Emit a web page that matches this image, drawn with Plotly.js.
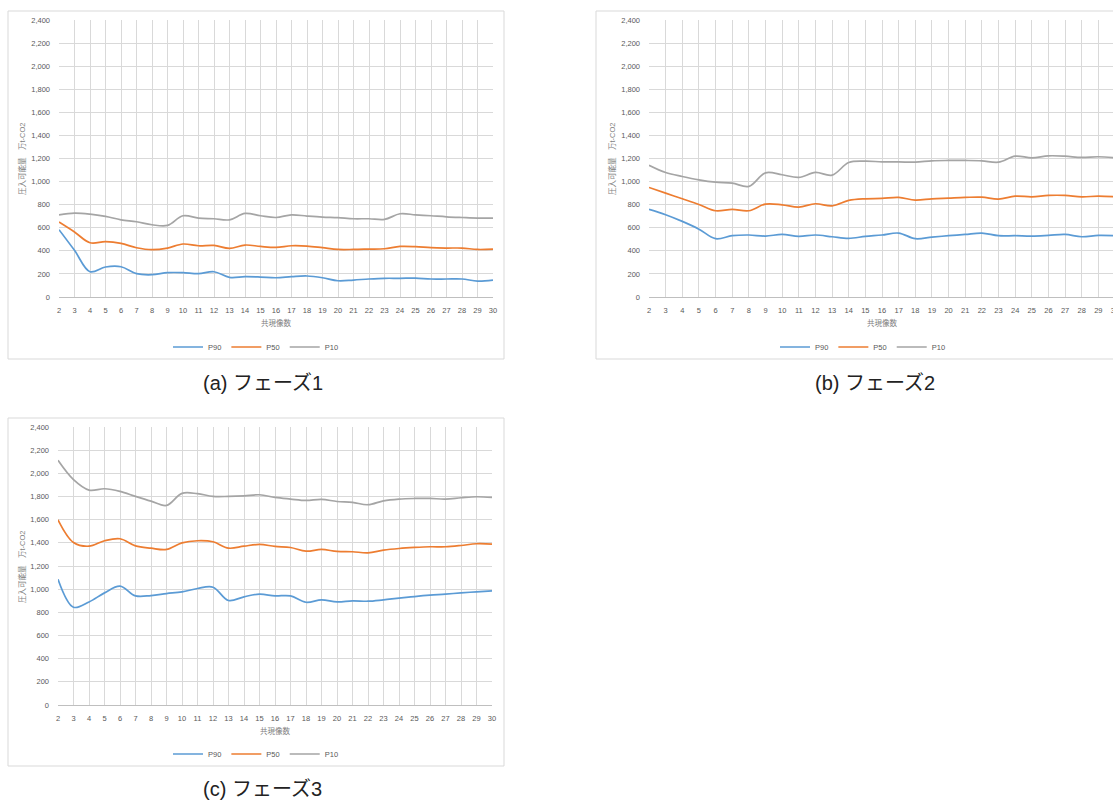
<!DOCTYPE html>
<html><head><meta charset="utf-8">
<script src="https://cdn.plot.ly/plotly-3.0.1.min.js"></script>
<style>html,body{margin:0;padding:0;overflow:hidden;background:#fff}#chart{width:1135px;height:804px}</style>
</head><body><div id="chart"></div>
<script>
const counts = [2,3,4,5,6,7,8,9,10,11,12,13,14,15,16,17,18,19,20,21,22,23,24,25,26,27,28,29,30];
const seriesNames = ['P90','P50','P10'];
const seriesColors = ['#5B9BD5','#ED7D31','#A5A5A5'];

const phase1_P90 = [583,404,219,260,262,202,193,211,211,202,219,170,176,173,167,176,182,167,141,147,156,162,162,164,156,156,156,138,147];
const phase1_P50 = [649,563,470,479,464,427,410,424,459,444,447,421,450,438,430,444,441,427,412,412,415,418,438,436,427,424,424,412,415];
const phase1_P10 = [712,727,718,698,669,652,626,620,704,684,678,669,724,704,689,712,701,692,687,678,678,672,721,712,704,695,689,684,684];

const phase2_P90 = [759,713,655,588,505,531,537,528,542,525,537,522,508,525,537,554,505,519,531,542,554,531,531,528,534,542,522,534,531];
const phase2_P50 = [949,900,851,802,747,759,747,805,799,779,808,790,837,851,854,863,839,851,857,863,865,848,874,868,880,880,868,874,868];
const phase2_P10 = [1142,1079,1044,1015,995,987,958,1076,1059,1036,1079,1056,1165,1177,1171,1171,1168,1180,1183,1183,1180,1168,1220,1206,1223,1220,1209,1215,1206];

const phase3_P90 = [1086,844,890,968,1026,942,945,962,977,1006,1017,902,934,957,942,942,887,908,890,899,896,908,922,936,948,957,968,977,985];
const phase3_P50 = [1599,1403,1371,1418,1435,1374,1354,1343,1400,1418,1409,1354,1371,1386,1369,1360,1328,1343,1326,1323,1314,1337,1351,1360,1366,1366,1377,1392,1389];
const phase3_P10 = [2112,1945,1855,1867,1844,1801,1760,1723,1827,1824,1801,1801,1806,1815,1792,1778,1766,1775,1757,1749,1729,1763,1778,1783,1783,1778,1789,1798,1792];

const xTitle = '共現像数';
const yTitle = '圧入可能量　万t-CO2';
const captions = ['(a) フェーズ1','(b) フェーズ2','(c) フェーズ3'];

const W = 1135, H = 804;
const px = v => v / W;
const py = v => 1 - v / H;
const FONT = 'Liberation Sans, Arial, Noto Sans CJK JP, sans-serif';

const panels = [
  {data:[phase1_P90,phase1_P50,phase1_P10], box:[8,11,504,359], plot:[59,20,493,297], legend:[256,347], xt:[276,323], yt:[22,159], cap:[263,383]},
  {data:[phase2_P90,phase2_P50,phase2_P10], box:[596,11,1130,359], plot:[649,20,1115,297], legend:[863,347], xt:[882,323], yt:[612,159], cap:[875,383]},
  {data:[phase3_P90,phase3_P50,phase3_P10], box:[8,418,504,766], plot:[58,427,492,705], legend:[256,754], xt:[275,731], yt:[22,567], cap:[262,789]}
];

const traces = [];
const layout = {
  width: W, height: H, margin:{l:0,r:0,t:0,b:0},
  paper_bgcolor:'#fff', plot_bgcolor:'#fff',
  font:{family:FONT, color:'#595959'},
  shapes:[], annotations:[]
};

panels.forEach((p, i) => {
  const sfx = i === 0 ? '' : String(i + 1);
  const legKey = 'legend' + sfx;
  p.data.forEach((vals, k) => {
    traces.push({
      x: counts, y: vals, type:'scatter', mode:'lines', name: seriesNames[k],
      line:{color: seriesColors[k], width:1.7, shape:'spline', smoothing:1},
      xaxis:'x' + sfx, yaxis:'y' + sfx, legend: legKey, hoverinfo:'skip'
    });
  });
  layout['xaxis' + sfx] = {
    domain:[px(p.plot[0]), px(p.plot[2])], range:[2,30], anchor:'y' + sfx,
    tickmode:'array', tickvals: counts, showgrid:true, gridcolor:'#D9D9D9', gridwidth:1,
    showline:true, linecolor:'#BFBFBF', linewidth:1, zeroline:false, ticks:'',
    tickfont:{size:7.5, color:'#595959'}, ticklabelstandoff:6, fixedrange:true
  };
  layout['yaxis' + sfx] = {
    domain:[py(p.plot[3]), py(p.plot[1])], range:[0,2400], anchor:'x' + sfx,
    tick0:0, dtick:200, tickformat:',', showgrid:true, gridcolor:'#D9D9D9', gridwidth:1,
    zeroline:false, showline:false, ticks:'',
    tickfont:{size:7.5, color:'#595959'}, ticklabelstandoff:8, fixedrange:true
  };
  layout[legKey] = {
    orientation:'h', x:px(p.legend[0]), xanchor:'center', y:py(p.legend[1]), yanchor:'middle',
    font:{size:7.5, color:'#595959'}, bgcolor:'rgba(0,0,0,0)', itemwidth:30, tracegroupgap:0
  };
  layout.shapes.push({type:'rect', xref:'paper', yref:'paper', layer:'below',
    x0:px(p.box[0]), x1:px(p.box[2]), y0:py(p.box[3]), y1:py(p.box[1]),
    line:{color:'#D9D9D9', width:1}, fillcolor:'rgba(0,0,0,0)'});
  layout.annotations.push({text:xTitle, xref:'paper', yref:'paper', x:px(p.xt[0]), y:py(p.xt[1]),
    xanchor:'center', yanchor:'middle', showarrow:false, font:{size:7.5, color:'#7F7F7F'}});
  layout.annotations.push({text:yTitle, xref:'paper', yref:'paper', x:px(p.yt[0]), y:py(p.yt[1]),
    xanchor:'center', yanchor:'middle', textangle:-90, showarrow:false, font:{size:7.5, color:'#7F7F7F'}});
  layout.annotations.push({text:captions[i], xref:'paper', yref:'paper', x:px(p.cap[0]), y:py(p.cap[1]),
    xanchor:'center', yanchor:'middle', showarrow:false, font:{size:20, color:'#222222'}});
});

Plotly.newPlot('chart', traces, layout, {displayModeBar:false, staticPlot:true});
</script>
</body></html>
